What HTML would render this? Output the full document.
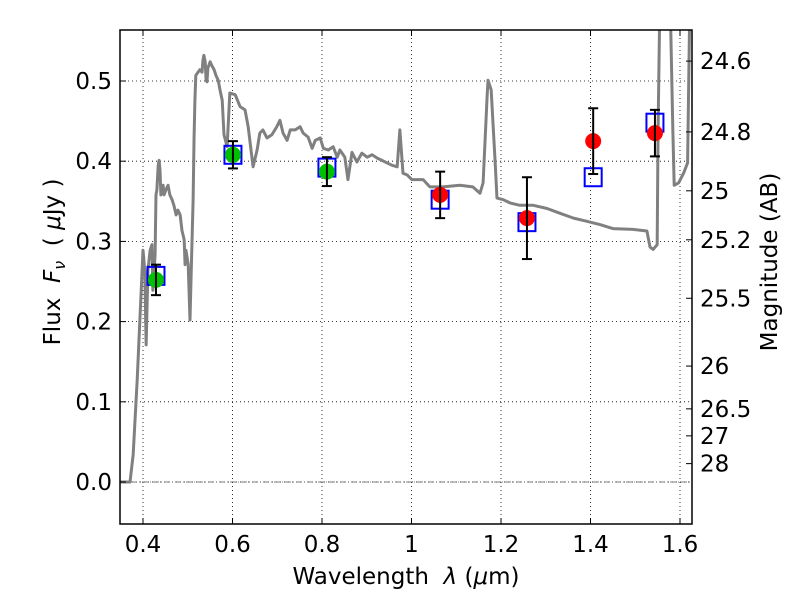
<!DOCTYPE html>
<html><head><meta charset="utf-8"><style>
body{margin:0;background:#fff}
svg text{font-family:"DejaVu Sans","Liberation Sans",sans-serif;fill:#000;white-space:pre}
</style></head><body>
<svg id="c" width="800" height="600" xmlns="http://www.w3.org/2000/svg"></svg>
<script>
const xTicks=[0.4,0.6,0.8,1.0,1.2,1.4,1.6];
const xTickLabels=["0.4","0.6","0.8","1","1.2","1.4","1.6"];
const yTicks=[0,0.1,0.2,0.3,0.4,0.5];
const yTickLabels=["0.0","0.1","0.2","0.3","0.4","0.5"];
const magTicks=[24.6,24.8,25,25.2,25.5,26,26.5,27,28];
const magLabels=["24.6","24.8","25","25.2","25.5","26","26.5","27","28"];
const modelWave=[0.349,0.371,0.378,0.387,0.396,0.400,0.404,0.407,0.411,0.416,0.420,0.422,0.427,0.429,0.431,0.434,0.436,0.438,0.440,0.445,0.447,0.451,0.456,0.460,0.465,0.469,0.474,0.478,0.483,0.487,0.492,0.494,0.496,0.501,0.505,0.509,0.512,0.514,0.516,0.518,0.523,0.527,0.532,0.534,0.536,0.539,0.541,0.543,0.545,0.550,0.554,0.559,0.563,0.568,0.572,0.577,0.581,0.588,0.594,0.606,0.617,0.628,0.635,0.646,0.655,0.661,0.668,0.677,0.688,0.699,0.706,0.713,0.722,0.729,0.740,0.751,0.758,0.769,0.778,0.785,0.796,0.803,0.814,0.825,0.834,0.840,0.851,0.858,0.867,0.878,0.889,0.901,0.912,0.923,0.934,0.945,0.956,0.968,0.974,0.981,0.990,1.001,1.019,1.026,1.041,1.070,1.108,1.137,1.153,1.160,1.169,1.171,1.178,1.187,1.191,1.205,1.220,1.242,1.272,1.303,1.332,1.362,1.392,1.421,1.450,1.495,1.526,1.533,1.540,1.549,1.551,1.555,1.578,1.584,1.587,1.597,1.608,1.617,1.622,1.629];
const modelFlux=[0,0,0.034,0.127,0.239,0.289,0.264,0.171,0.264,0.289,0.296,0.239,0.283,0.358,0.364,0.395,0.401,0.389,0.358,0.370,0.358,0.364,0.370,0.358,0.352,0.345,0.333,0.339,0.333,0.314,0.302,0.271,0.289,0.271,0.202,0.289,0.352,0.426,0.476,0.507,0.511,0.514,0.511,0.526,0.532,0.524,0.501,0.499,0.516,0.524,0.519,0.514,0.507,0.501,0.489,0.476,0.433,0.418,0.485,0.483,0.468,0.464,0.443,0.393,0.414,0.435,0.439,0.429,0.433,0.443,0.451,0.435,0.426,0.439,0.439,0.443,0.435,0.430,0.416,0.426,0.429,0.416,0.414,0.418,0.405,0.414,0.405,0.377,0.411,0.399,0.410,0.405,0.408,0.404,0.401,0.398,0.395,0.393,0.439,0.385,0.383,0.377,0.377,0.377,0.368,0.368,0.370,0.368,0.360,0.373,0.481,0.501,0.489,0.398,0.354,0.352,0.348,0.345,0.345,0.341,0.335,0.329,0.325,0.321,0.316,0.315,0.313,0.293,0.290,0.296,0.439,0.60,0.60,0.439,0.370,0.373,0.385,0.398,0.60,0.65];
const greenWave=[0.429,0.601,0.811];
const greenFlux=[0.252,0.408,0.387];
const greenErr=[0.019,0.017,0.018];
const redWave=[1.064,1.258,1.406,1.544];
const redFlux=[0.358,0.329,0.425,0.435];
const redErr=[0.029,0.051,0.041,0.029];
const modelBandWave=[0.429,0.601,0.811,1.064,1.258,1.406,1.544];
const modelBandFlux=[0.257,0.408,0.392,0.352,0.324,0.380,0.448];

const L=120,R=692,T=30,B=524;
const X=v=>143+(v-0.4)*447.5;
const Y=v=>482-v*802;
const M=m=>Y(Math.pow(10,(23.9-m)/2.5));
const svg=document.getElementById('c');
const NS="http://www.w3.org/2000/svg";
function mk(t,a,p){const e=document.createElementNS(NS,t);for(const k in a)e.setAttribute(k,a[k]);(p||svg).appendChild(e);return e;}

const defs=mk('defs',{});const cp=mk('clipPath',{id:'clip'},defs);mk('rect',{x:L,y:T,width:R-L,height:B-T},cp);

const grid=mk('g',{});


xTicks.forEach(v=>mk('line',{x1:X(v),x2:X(v),y1:T,y2:B,stroke:'#000','stroke-width':0.8,'stroke-dasharray':'1,3'},grid));
yTicks.forEach(v=>mk('line',{x1:L,x2:R,y1:Y(v),y2:Y(v),stroke:'#000','stroke-width':0.8,'stroke-dasharray':'1,3'},grid));
const zl=mk('line',{x1:L,x2:R,y1:Y(0),y2:Y(0),stroke:'#555','stroke-width':0.8,'stroke-dasharray':'6,2,1,2'});



const curve=mk('polyline',{points:modelWave.map((w,i)=>X(w)+','+Y(modelFlux[i])).join(' '),fill:'none',stroke:'#808080','stroke-width':3,'clip-path':'url(#clip)','stroke-linejoin':'round'});



modelBandWave.forEach((w,i)=>{
 const r=mk('rect',{x:X(w)-8.5,y:Y(modelBandFlux[i])-9,width:17,height:18,fill:'none',stroke:'#0000ff','stroke-width':2});
 
 
});
function pts(ws,fs,es,col,name){ws.forEach((w,i)=>{
 const g=mk('g',{});
 
 
 mk('circle',{cx:X(w),cy:Y(fs[i]),r:8,fill:col},g);
 const x=X(w),y1=Y(fs[i]-es[i]),y2=Y(fs[i]+es[i]);
 mk('line',{x1:x,x2:x,y1:y1,y2:y2,stroke:'#000','stroke-width':2},g);
 mk('line',{x1:x-5,x2:x+5,y1:y1,y2:y1,stroke:'#000','stroke-width':2},g);
 mk('line',{x1:x-5,x2:x+5,y1:y2,y2:y2,stroke:'#000','stroke-width':2},g);
});}
pts(greenWave,greenFlux,greenErr,'#00c000','green-photometry-point');
pts(redWave,redFlux,redErr,'#ff0000','red-photometry-point');

const fr=mk('rect',{x:L,y:T,width:R-L,height:B-T,fill:'none',stroke:'#000','stroke-width':1.5});



xTicks.forEach((v,i)=>{
 mk('line',{x1:X(v),x2:X(v),y1:B,y2:B-6,stroke:'#000'});mk('line',{x1:X(v),x2:X(v),y1:T,y2:T+6,stroke:'#000'});
 const t=mk('text',{x:X(v),y:B+28,'text-anchor':'middle','font-size':23});t.textContent=xTickLabels[i];
 
 
});
yTicks.forEach((v,i)=>{
 mk('line',{x1:L,x2:L+6,y1:Y(v),y2:Y(v),stroke:'#000'});
 const t=mk('text',{x:L-8,y:Y(v)+8,'text-anchor':'end','font-size':23});t.textContent=yTickLabels[i];
 
 
});
magTicks.forEach((m,i)=>{
 mk('line',{x1:R,x2:R-6,y1:M(m),y2:M(m),stroke:'#000'});
 const t=mk('text',{x:R+8,y:M(m)+8,'font-size':23});t.textContent=magLabels[i];
 
 
});
let t=mk('text',{x:406,y:584,'text-anchor':'middle','font-size':23});
t.innerHTML='Wavelength  <tspan font-style="italic">λ</tspan> (<tspan font-style="italic">μ</tspan>m)';


t=mk('text',{x:0,y:0,'text-anchor':'middle','font-size':23,transform:'translate(60,262) rotate(-90)'});
t.innerHTML='Flux  <tspan font-style="italic">F</tspan><tspan font-style="italic" font-size="16" dy="5">ν</tspan><tspan dy="-5">  ( </tspan><tspan font-style="italic">μ</tspan>Jy )';


t=mk('text',{x:0,y:0,'text-anchor':'middle','font-size':23,transform:'translate(777,262) rotate(-90)'});
t.textContent='Magnitude (AB)';


</script>
</body></html>
